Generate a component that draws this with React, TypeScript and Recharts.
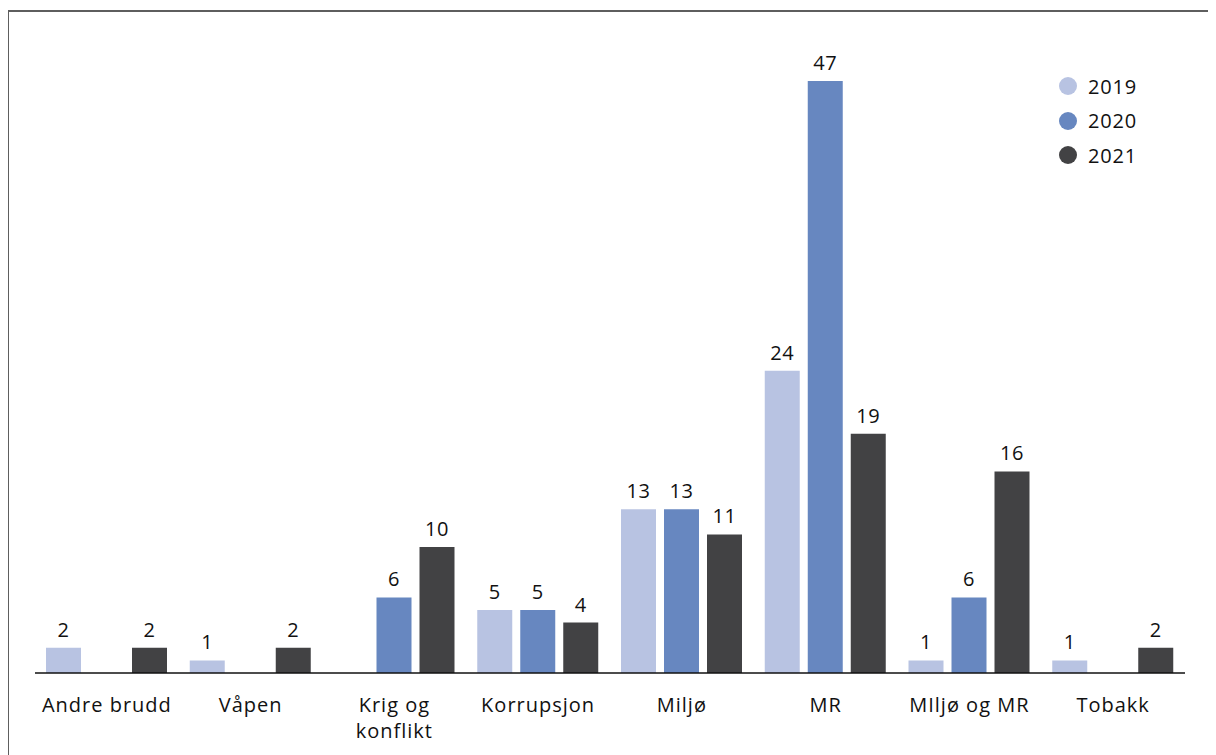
import { BarChart, Bar, XAxis, YAxis, LabelList } from "recharts";

const categories = [
    "Andre brudd",
    "Våpen",
    "Krig og\nkonflikt",
    "Korrupsjon",
    "Miljø",
    "MR",
    "MIljø og MR",
    "Tobakk",
];
const values2019 = [2, 1, 0, 5, 13, 24, 1, 1];
const values2020 = [0, 0, 6, 5, 13, 47, 6, 0];
const values2021 = [2, 2, 10, 4, 11, 19, 16, 2];

const series = [
    { key: "y2019", name: "2019", color: "#b8c3e2" },
    { key: "y2020", name: "2020", color: "#6787c0" },
    { key: "y2021", name: "2021", color: "#424244" },
];

const data = categories.map((name, i) => ({
    name,
    y2019: values2019[i],
    y2020: values2020[i],
    y2021: values2021[i],
}));

const FONT = "'Open Sans', sans-serif";

const CategoryTick = ({ x, y, payload }: any) => {
    const lines = String(payload.value).split("\n");
    return (
        <text
            x={x}
            y={y + 39}
            textAnchor="middle"
            fontSize={20}
            fill="#111"
            fontFamily={FONT}
            letterSpacing={1}
        >
            {lines.map((line, i) => (
                <tspan key={i} x={x} dy={i === 0 ? 0 : 26}>
                    {line}
                </tspan>
            ))}
        </text>
    );
};

// hide zero labels
const labelFormatter = (v: any) => (v === 0 ? "" : v);

export default function App() {
    return (
        <div style={{ position: "relative", width: 1208, height: 747, fontFamily: FONT }}>
            {/* frame, only top and left show in the picture */}
            <div
                style={{
                    position: "absolute",
                    left: -1,
                    top: 2,
                    width: 1220,
                    height: 760,
                    borderTop: "2px solid #5e5e5e",
                    borderLeft: "2px solid #5e5e5e",
                }}
            />
            <div style={{ position: "absolute", left: 0, top: 0 }}>
                <BarChart
                    width={1208}
                    height={747}
                    data={data}
                    margin={{ top: 73, right: 31, left: 27, bottom: 0 }}
                    barCategoryGap={11}
                    barGap={8}
                >
                    <XAxis
                        dataKey="name"
                        height={82}
                        tickLine={false}
                        tickSize={0}
                        tickMargin={0}
                        axisLine={{ stroke: "#111", strokeWidth: 1.3 }}
                        tick={<CategoryTick />}
                        interval={0}
                    />
                    <YAxis hide domain={[0, 47]} />
                    {series.map((s) => (
                        <Bar key={s.key} dataKey={s.key} name={s.name} fill={s.color} isAnimationActive={false}>
                            <LabelList
                                dataKey={s.key}
                                position="top"
                                offset={11}
                                formatter={labelFormatter}
                                style={{ fontSize: 20, fill: "#111", fontFamily: FONT, letterSpacing: 0.6 }}
                            />
                        </Bar>
                    ))}
                </BarChart>
            </div>
            {/* legend */}
            <div
                style={{
                    position: "absolute",
                    left: 1051,
                    top: 61,
                    fontSize: 20,
                    color: "#111",
                    letterSpacing: 0.8,
                }}
            >
                {series.map((s) => (
                    <div key={s.key} style={{ display: "flex", alignItems: "center", height: 34.5 }}>
                        <span
                            style={{
                                width: 18,
                                height: 18,
                                borderRadius: 9,
                                background: s.color,
                                display: "inline-block",
                                marginRight: 11,
                            }}
                        />
                        {s.name}
                    </div>
                ))}
            </div>
        </div>
    );
}
